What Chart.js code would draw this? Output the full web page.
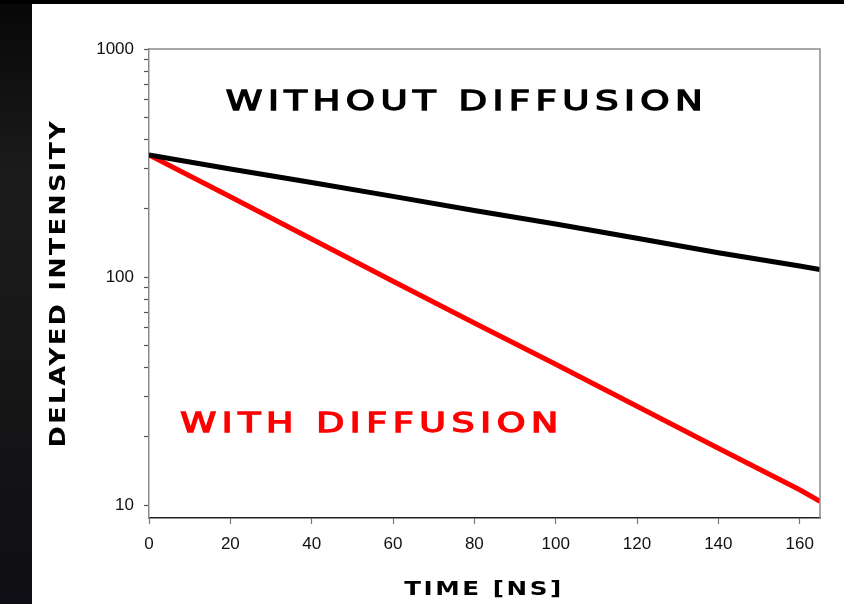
<!DOCTYPE html>
<html>
<head>
<meta charset="utf-8">
<script src="https://cdn.jsdelivr.net/npm/chart.js@4/dist/chart.umd.min.js"></script>
<style>
  html, body { margin: 0; padding: 0; background: #fff; overflow: hidden; }
  #wrap { position: relative; width: 844px; height: 604px; }
</style>
</head>
<body>
<div id="wrap"><canvas id="decayChart"></canvas></div>
<script>
// values
const timeNs = [0, 20, 40, 60, 80, 100, 120, 140, 160, 165];
const withoutDiffusion = [343, 298, 260, 226, 196, 171, 148, 128, 112, 108];
const withDiffusion = [343, 225, 147, 96, 63, 41.5, 27.2, 17.8, 11.7, 10.4];
const yMajorLabels = ['10', '100', '1000'];

const AREA = { left: 149, right: 820, top: 49, bottom: 518 };

// draws text stretched horizontally to a given width (wide display face look)
function drawFit(ctx, text, cx, cy, cap, width, opts) {
  const size = cap / 0.73;
  ctx.save();
  ctx.translate(cx, cy);
  if (opts.rotate) ctx.rotate(opts.rotate);
  ctx.font = `${opts.weight || 'normal'} ${size}px ${opts.family || '"DejaVu Sans"'}`;
  ctx.letterSpacing = (opts.spacing || 0) + 'px';
  const w = ctx.measureText(text).width - (opts.spacing || 0);
  ctx.scale(width / w, 1);
  ctx.fillStyle = opts.color || '#000';
  ctx.textAlign = 'center';
  ctx.textBaseline = 'middle';
  ctx.fillText(text, 0, cap * 0.02);
  if (opts.stroke) {
    ctx.strokeStyle = opts.color || '#000';
    ctx.lineWidth = opts.stroke;
    ctx.strokeText(text, 0, cap * 0.02);
  }
  ctx.restore();
}

const decor = {
  id: 'decor',
  beforeDraw(chart) {
    const ctx = chart.ctx;
    ctx.save();
    ctx.fillStyle = '#fff';
    ctx.fillRect(0, 0, chart.width, chart.height);
    const g = ctx.createLinearGradient(0, 0, 0, chart.height);
    g.addColorStop(0, '#070707');
    g.addColorStop(0.3, '#1c1c1c');
    g.addColorStop(0.6, '#171717');
    g.addColorStop(1, '#0e0e14');
    ctx.fillStyle = g;
    ctx.fillRect(0, 0, 32, chart.height);
    ctx.fillStyle = '#000';
    ctx.fillRect(0, 0, chart.width, 4);
    ctx.restore();
  },
  afterDraw(chart) {
    const ctx = chart.ctx;
    const a = chart.chartArea;
    ctx.save();
    ctx.strokeStyle = '#8a8a8a';
    ctx.lineWidth = 1.5;
    ctx.beginPath();
    ctx.moveTo(a.left, a.top);
    ctx.lineTo(a.right, a.top);
    ctx.lineTo(a.right, a.bottom);
    ctx.stroke();
    ctx.restore();

    drawFit(ctx, 'WITHOUT DIFFUSION', 467, 102, 20, 477, { spacing: 4, stroke: 1.3, color: '#000' });
    drawFit(ctx, 'WITH DIFFUSION', 372, 425, 19, 378, { spacing: 4, stroke: 1.3, color: '#ff0000' });
    drawFit(ctx, 'DELAYED INTENSITY', 59, 283, 15, 326, { spacing: 2, weight: 'bold', rotate: -Math.PI / 2 });
    drawFit(ctx, 'TIME [NS]', 484, 590, 14, 157, { spacing: 2, weight: 'bold' });
  }
};

new Chart(document.getElementById('decayChart'), {
  type: 'line',
  data: {
    datasets: [
      {
        data: timeNs.map((t, i) => ({ x: t, y: withoutDiffusion[i] })),
        borderColor: '#000', borderWidth: 5, pointRadius: 0, tension: 0
      },
      {
        data: timeNs.map((t, i) => ({ x: t, y: withDiffusion[i] })),
        borderColor: '#ff0000', borderWidth: 5, pointRadius: 0, tension: 0
      }
    ]
  },
  options: {
    responsive: true,
    maintainAspectRatio: false,
    animation: false,
    events: [],
    layout: { padding: { top: AREA.top, right: 844 - AREA.right, left: 0, bottom: 0 } },
    plugins: { legend: { display: false }, tooltip: { enabled: false } },
    scales: {
      x: {
        type: 'linear', min: 0, max: 165,
        border: { color: '#222', width: 1.5 },
        grid: { drawOnChartArea: false, tickLength: 6, tickColor: '#777', tickWidth: 1.2 },
        ticks: {
          stepSize: 20, includeBounds: false, padding: 10, color: '#111',
          font: { family: '"Liberation Sans", Arial', size: 17 }
        },
        afterFit(s) { s.height = 604 - AREA.bottom; }
      },
      y: {
        type: 'logarithmic', min: 8.8, max: 1000,
        border: { color: '#8a8a8a', width: 1.5 },
        grid: { drawOnChartArea: false, tickLength: 5, tickColor: '#555', tickWidth: 1.2 },
        ticks: {
          autoSkip: false, padding: 10, color: '#111',
          font: { family: '"Liberation Sans", Arial', size: 17 },
          callback(v) {
            const e = Math.floor(Math.log10(v) + 1e-9);
            const m = v / Math.pow(10, e);
            if (Math.abs(m - Math.round(m)) > 1e-6) return null;
            const lbl = String(Math.round(v));
            return yMajorLabels.includes(lbl) ? lbl : '';
          }
        },
        afterFit(s) { s.width = AREA.left; }
      }
    }
  },
  plugins: [decor]
});
</script>
</body>
</html>
